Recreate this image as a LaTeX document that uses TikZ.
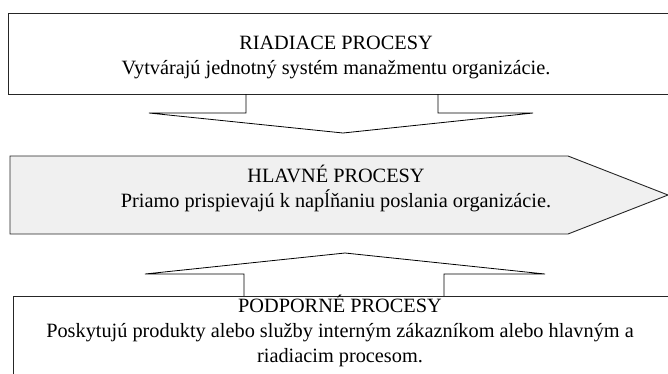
\documentclass[tikz,border=0pt]{standalone}
\usepackage{fontspec}
\setmainfont{Liberation Serif}
\usetikzlibrary{positioning}
\tikzset{
    procbox/.style = {rectangle, draw=black!85, line width=0.9pt, anchor=north west, inner sep=0pt},
    proctext/.style = {align=center, inner sep=0pt, font=\fontsize{20.3}{25}\selectfont},
    blockarrow/.style = {draw=black, line width=0.8pt, line join=miter}
}

\begin{document}
\begin{tikzpicture}[x=1pt, y=-1pt]
    \useasboundingbox (0,0) rectangle (668,373);
    \clip (0,0) rectangle (668,373);

    % riadiace procesy
    \node (control) [procbox, minimum width=680pt, minimum height=81pt] at (8,13) {};
    \node (controltext) [proctext] at (336,57) {RIADIACE PROCESY\\Vytvárajú jednotný systém manažmentu organizácie.};
    \draw [blockarrow] (246,94) -- (246,113) -- (149,113) -- (343,133) -- (533,113) -- (438,113) -- (438,94);

    % hlavne procesy
    \draw [procbox, fill=black!6] (10,156) -- (568,156) -- (668,195) -- (568,234) -- (10,234) -- cycle;
    \node (maintext) [proctext] at (336,188) {HLAVNÉ PROCESY\\Priamo prispievajú k napĺňaniu poslania organizácie.};

    % podporne procesy
    \draw [blockarrow] (244,296) -- (244,274) -- (145,274) -- (345,253) -- (545,274) -- (444,274) -- (444,296);
    \node (support) [procbox, minimum width=680pt, minimum height=100pt] at (13,296) {};
    \node (supporttext) [proctext] at (340,331) {PODPORNÉ PROCESY\\Poskytujú produkty alebo služby interným zákazníkom alebo hlavným a\\riadiacim procesom.};
\end{tikzpicture}
\end{document}
